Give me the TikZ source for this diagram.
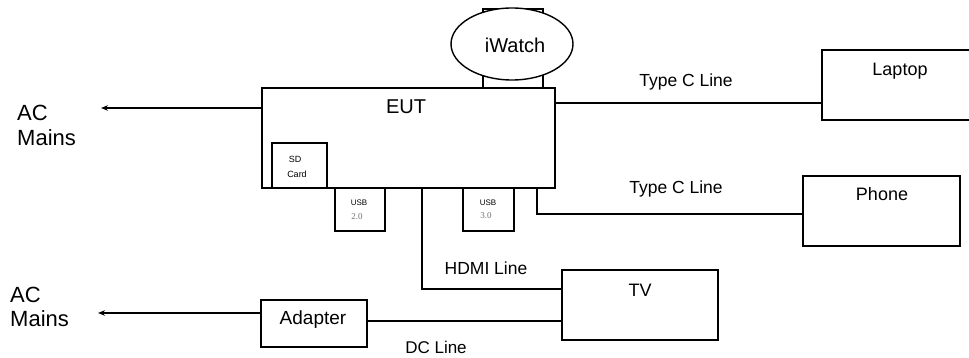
\documentclass[tikz,border=0pt]{standalone}
\usepackage{fontspec}
\setmainfont{Liberation Sans}
\newfontfamily\serifnum{Liberation Serif}
\usetikzlibrary{arrows.meta,shapes.geometric}
\tikzset{
  box/.style={draw=black, line width=1.4pt, fill=white, inner sep=0pt, rectangle},
  wire/.style={draw=black, line width=1.3pt},
  lbl/.style={inner sep=0pt, text=black},
  arr/.style={wire, -{Stealth[length=7pt,width=5.5pt]}}
}
\begin{document}
\begin{tikzpicture}[x=1pt,y=-1pt]
\useasboundingbox (0,0) rectangle (969,358);
% boxes
\node[box, minimum width=60pt, minimum height=79pt] (wrect) at (513,48.5) {};
\node[box, minimum width=293pt, minimum height=100pt] (eut) at (408.5,138) {};
\node[draw=black, line width=1.4pt, fill=white, ellipse, inner sep=0pt, minimum width=122pt, minimum height=72pt] (iwatch) at (512,44) {};
\node[box, minimum width=55pt, minimum height=45pt] (sd) at (299.5,165.5) {};
\node[box, minimum width=50pt, minimum height=43pt] (usb2) at (360,209.5) {};
\node[box, minimum width=51pt, minimum height=43pt] (usb3) at (488.5,209.5) {};
\node[box, minimum width=156pt, minimum height=70pt] (tv) at (640,305) {};
\node[box, minimum width=106pt, minimum height=47pt] (adapter) at (314,323.5) {};
\node[box, minimum width=153pt, minimum height=70pt] (laptop) at (898.5,85) {};
\node[box, minimum width=157pt, minimum height=70pt] (phone) at (881.5,211) {};
% texts
\node[lbl, font=\fontsize{20}{22}\selectfont] (teut) at (406,107) {EUT};
\node[lbl, font=\fontsize{20}{22}\selectfont] (tiw) at (515,45) {iWatch};
\node[lbl, font=\fontsize{9}{10}\selectfont] (tsd) at (295,159) {SD};
\node[lbl, font=\fontsize{9}{10}\selectfont] (tcard) at (297,174) {Card};
\node[lbl, font=\fontsize{8}{9}\selectfont] (tusb2) at (359,203) {USB};
\node[lbl, font=\serifnum\fontsize{9}{10}\selectfont, text=black!55] (t20) at (357,217) {2.0};
\node[lbl, font=\fontsize{8}{9}\selectfont] (tusb3) at (488,203) {USB};
\node[lbl, font=\serifnum\fontsize{9}{10}\selectfont, text=black!55] (t30) at (486,216) {3.0};
\node[lbl, font=\fontsize{18}{20}\selectfont] (ttv) at (640,290) {TV};
\node[lbl, font=\fontsize{19}{21}\selectfont] (tad) at (313,320) {Adapter};
\node[lbl, font=\fontsize{18}{20}\selectfont] (tlap) at (900,71) {Laptop};
\node[lbl, font=\fontsize{18}{20}\selectfont] (tph) at (882,194) {Phone};
\node[lbl, font=\fontsize{17.5}{19}\selectfont] (ttc1) at (686,82) {Type C Line};
\node[lbl, font=\fontsize{17.5}{19}\selectfont] (ttc2) at (676,189) {Type C Line};
\node[lbl, font=\fontsize{17.5}{19}\selectfont] (thdmi) at (486,268) {HDMI Line};
\node[lbl, font=\fontsize{17}{19}\selectfont] (tdc) at (436,347) {DC Line};
\node[lbl, font=\fontsize{22}{24}\selectfont, anchor=west] (ac1) at (17,113) {AC};
\node[lbl, font=\fontsize{22}{24}\selectfont, anchor=west] (ms1) at (17,138) {Mains};
\node[lbl, font=\fontsize{22}{24}\selectfont, anchor=west] (ac2) at (10,295) {AC};
\node[lbl, font=\fontsize{22}{24}\selectfont, anchor=west] (ms2) at (10,319) {Mains};
% free ends and bends
\coordinate (acTop) at (101,108);
\coordinate (acBot) at (98,313);
\coordinate (lapY) at (0,103);
\coordinate (phX) at (537,0);
\coordinate (phY) at (0,214);
\coordinate (hdX) at (422,0);
\coordinate (hdY) at (0,289);
\coordinate (dcY) at (0,321);
% connectors
\draw[arr] (eut.west |- acTop) -- (acTop);
\draw[arr] (adapter.west |- acBot) -- (acBot);
\draw[wire] (eut.east |- lapY) -- (laptop.west |- lapY);
\draw[wire] (eut.south -| phX) -- (phX |- phY) -- (phone.west |- phY);
\draw[wire] (eut.south -| hdX) -- (hdX |- hdY) -- (tv.west |- hdY);
\draw[wire] (adapter.east |- dcY) -- (tv.west |- dcY);
\end{tikzpicture}
\end{document}
